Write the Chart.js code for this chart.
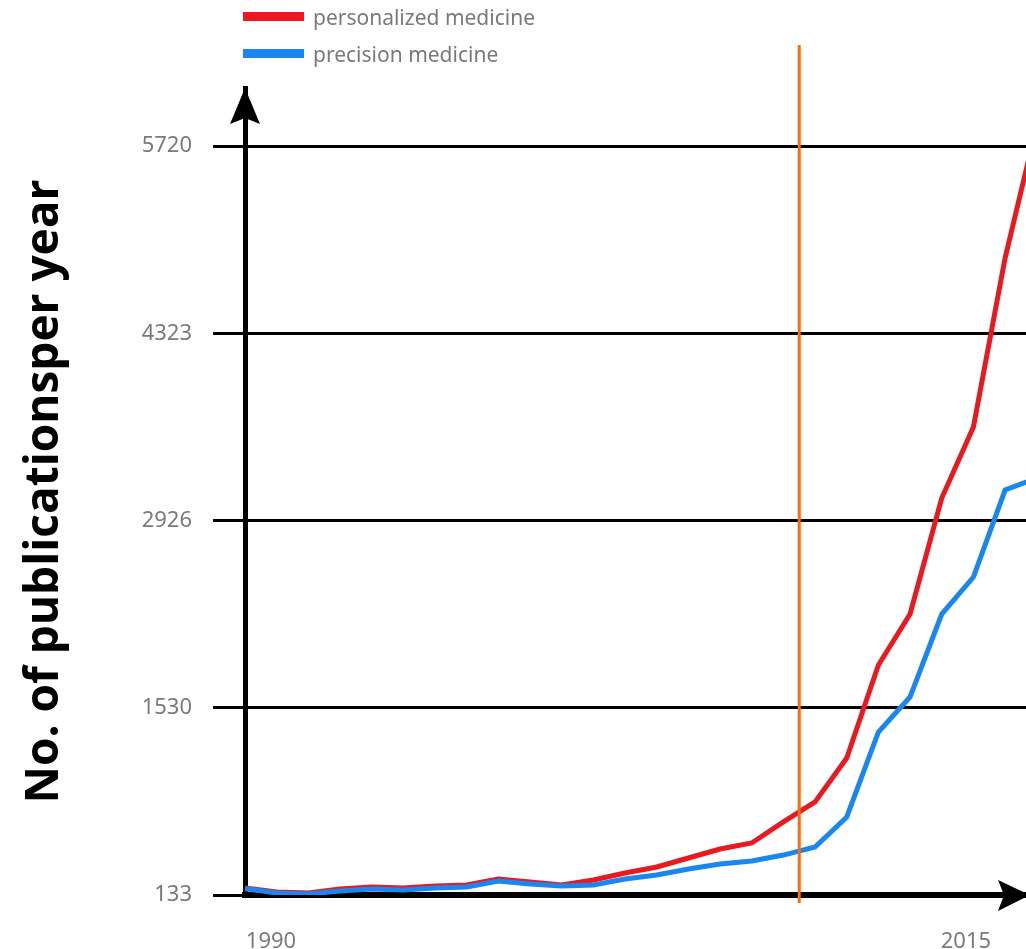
<!DOCTYPE html>
<html>
<head>
<meta charset="utf-8">
<script src="https://cdn.jsdelivr.net/npm/chart.js@4/dist/chart.umd.min.js"></script>
<style>
  body { margin: 0; background: #fff; }
  #wrap { position: relative; width: 1026px; height: 949px; }
  #legend { position: absolute; left: 243px; top: -2px; font-family: 'Noto Sans', sans-serif; font-size: 21px; color: #7a7a7a; }
  .item { display: flex; align-items: center; height: 37px; }
  .swatch { width: 61px; height: 9px; margin-right: 9px; }
</style>
</head>
<body>
<div id="wrap">
  <canvas id="myChart"></canvas>
  <div id="legend"></div>
</div>
<script>
const years = [1990, 1991, 1992, 1993, 1994, 1995, 1996, 1997, 1998, 1999, 2000, 2001, 2002,
  2003, 2004, 2005, 2006, 2007, 2008, 2009, 2010, 2011, 2012, 2013, 2014, 2015];
const personalized = [185, 155, 148, 178, 193, 185, 200, 208, 252, 230, 208, 245, 297,
  342, 409, 476, 521, 678, 827, 1155, 1849, 2229, 3094, 3624, 4884, 5875];
const precision = [180, 148, 140, 163, 178, 170, 185, 193, 237, 215, 200, 208, 252,
  282, 327, 364, 387, 431, 491, 715, 1349, 1610, 2229, 2505, 3154, 3243];
const yTicks = [133, 1530, 2926, 4323, 5720];
const xTickLabels = [1990, 2015];
const markerYear = 2007.5;

const seriesNames = ['personalized medicine', 'precision medicine'];
const seriesColors = ['#e8191f', '#1a86ef'];

const tickFont = { family: 'Noto Sans', size: 22 };

// legend as html, left aligned rows
const legend = document.getElementById('legend');
seriesNames.forEach((name, i) => {
  legend.innerHTML += '<div class="item"><span class="swatch" style="background:' + seriesColors[i] + '"></span>' + name + '</div>';
});

const arrows = {
  id: 'arrows',
  afterDraw(chart) {
    const ctx = chart.ctx;
    const a = chart.chartArea;
    ctx.save();
    ctx.fillStyle = '#000';
    // y axis arrow
    ctx.beginPath();
    ctx.moveTo(a.left, a.top);
    ctx.lineTo(a.left + 15, a.top + 36);
    ctx.lineTo(a.left, a.top + 30);
    ctx.lineTo(a.left - 15, a.top + 36);
    ctx.closePath();
    ctx.fill();
    // x axis arrow
    ctx.beginPath();
    ctx.moveTo(a.right + 4, a.bottom);
    ctx.lineTo(a.right - 28, a.bottom - 15);
    ctx.lineTo(a.right - 22, a.bottom);
    ctx.lineTo(a.right - 28, a.bottom + 16);
    ctx.closePath();
    ctx.fill();
    // orange marker
    const mx = chart.scales.x.getPixelForValue(markerYear);
    ctx.strokeStyle = '#ff6a0d';
    ctx.lineWidth = 3;
    ctx.beginPath();
    ctx.moveTo(mx, 45);
    ctx.lineTo(mx, a.bottom + 8);
    ctx.stroke();
    ctx.restore();
  }
};

const ctx = document.getElementById('myChart');

new Chart(ctx, {
  type: 'line',
  data: {
    datasets: [{
      label: seriesNames[0],
      data: years.map((y, i) => ({ x: y, y: personalized[i] })),
      borderColor: seriesColors[0],
      borderWidth: 5,
      pointRadius: 0,
      order: 2
    }, {
      label: seriesNames[1],
      data: years.map((y, i) => ({ x: y, y: precision[i] })),
      borderColor: seriesColors[1],
      borderWidth: 5,
      pointRadius: 0,
      order: 1
    }]
  },
  options: {
    responsive: true,
    maintainAspectRatio: false,
    animation: false,
    layout: { padding: { top: 88, left: 0, right: 0, bottom: 0 } },
    plugins: { legend: { display: false }, tooltip: { enabled: false } },
    scales: {
      x: {
        type: 'linear',
        min: 1990,
        max: 2014.66,
        ticks: { display: false },
        grid: { display: false },
        border: { color: '#000', width: 6 },
        afterFit: s => { s.height = 0; }
      },
      x2: {
        type: 'linear',
        position: 'bottom',
        min: 1989.065,
        max: 2017.16,
        grid: { display: false },
        border: { display: false },
        afterBuildTicks: s => { s.ticks = xTickLabels.map(v => ({ value: v })); },
        ticks: { callback: v => String(v), font: tickFont, color: '#7a7a7a', padding: 26, maxRotation: 0, autoSkip: false },
        afterFit: s => { s.height = 54; }
      },
      y: {
        min: 133,
        max: 6153,
        afterBuildTicks: s => { s.ticks = yTicks.map(v => ({ value: v })); },
        ticks: { callback: v => String(v), font: tickFont, color: '#7a7a7a', padding: 21 },
        grid: { color: '#000', lineWidth: 3, tickLength: 32 },
        border: { color: '#000', width: 5 },
        title: {
          display: true,
          text: 'No. of publicationsper year',
          color: '#000',
          font: { family: 'Open Sans', size: 46, weight: 'bold' },
          padding: { top: 17, bottom: 0 }
        },
        afterFit: s => { s.width = 245; }
      }
    }
  },
  plugins: [arrows]
});
</script>
</body>
</html>
